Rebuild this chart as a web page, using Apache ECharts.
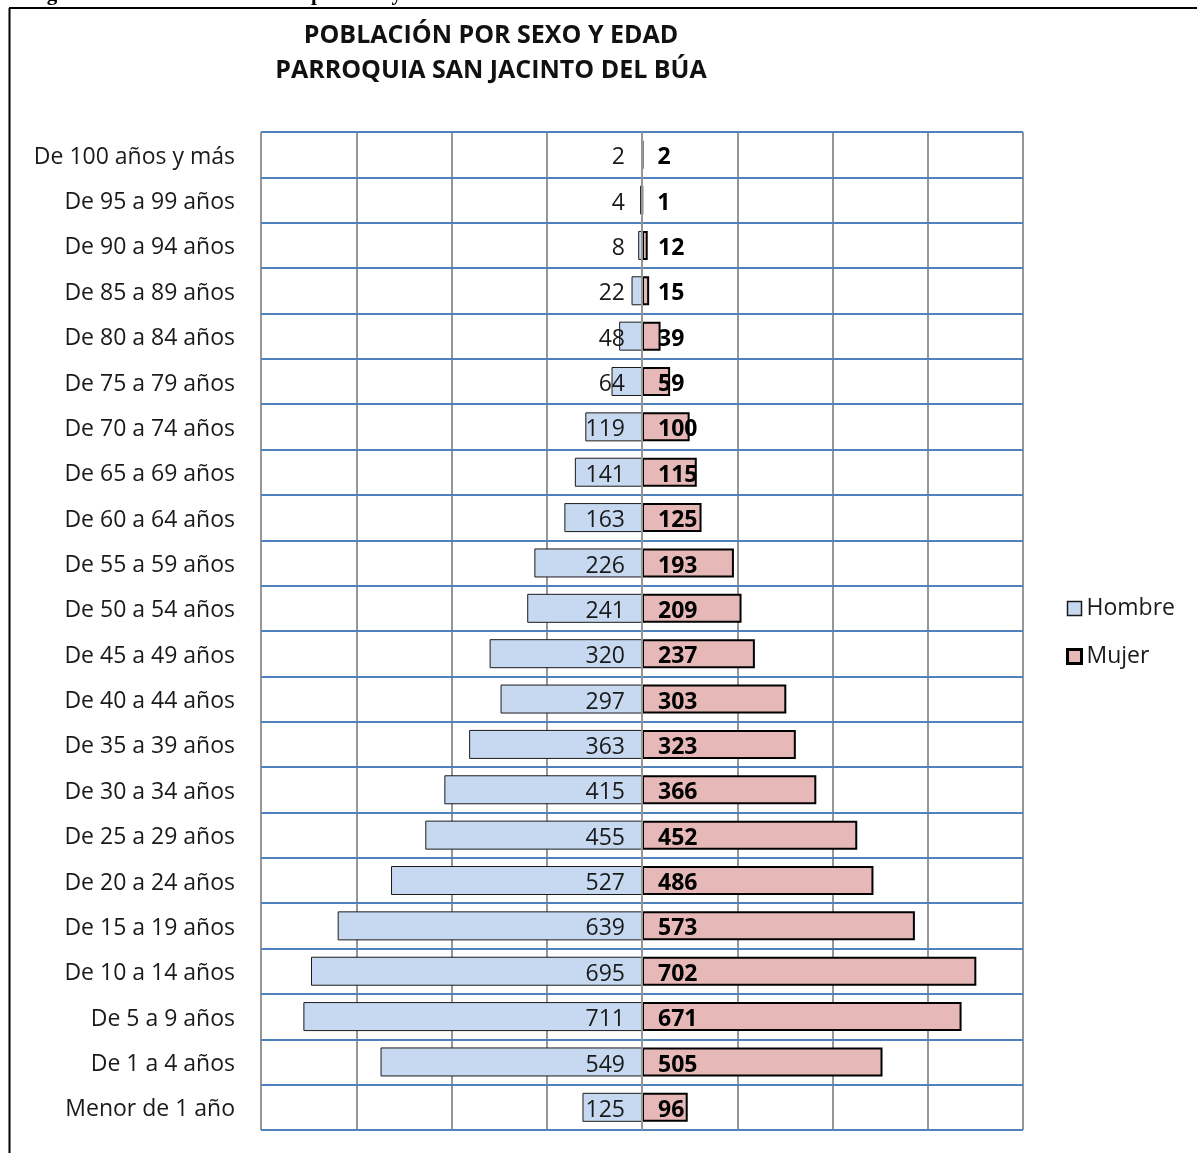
<!DOCTYPE html>
<html>
<head>
<meta charset="utf-8">
<script src="https://cdn.jsdelivr.net/npm/echarts@6/dist/echarts.min.js"></script>
<style>
  html, body { margin: 0; padding: 0; background: #ffffff; }
  #chart { width: 1197px; height: 1153px; }
</style>
</head>
<body>
<div id="chart"></div>
<script>
// Age groups, listed from the oldest (top row) to the youngest (bottom row)
const categories = [
  'De 100 años y más', 'De 95 a 99 años', 'De 90 a 94 años', 'De 85 a 89 años',
  'De 80 a 84 años', 'De 75 a 79 años', 'De 70 a 74 años', 'De 65 a 69 años',
  'De 60 a 64 años', 'De 55 a 59 años', 'De 50 a 54 años', 'De 45 a 49 años',
  'De 40 a 44 años', 'De 35 a 39 años', 'De 30 a 34 años', 'De 25 a 29 años',
  'De 20 a 24 años', 'De 15 a 19 años', 'De 10 a 14 años', 'De 5 a 9 años',
  'De 1 a 4 años', 'Menor de 1 año'
];
const hombre = [2, 4, 8, 22, 48, 64, 119, 141, 163, 226, 241, 320, 297, 363, 415, 455, 527, 639, 695, 711, 549, 125];
const mujer  = [2, 1, 12, 15, 39, 59, 100, 115, 125, 193, 209, 237, 303, 323, 366, 452, 486, 573, 702, 671, 505, 96];
const seriesNames = ['Hombre', 'Mujer'];
const titleLines = ['POBLACIÓN POR SEXO Y EDAD', 'PARROQUIA SAN JACINTO DEL BÚA'];

const FONT = '"Open Sans", "DejaVu Sans", sans-serif';
const chart = echarts.init(document.getElementById('chart'), null, { renderer: 'canvas' });

chart.setOption({
  backgroundColor: '#ffffff',
  animation: false,
  title: {
    text: titleLines.join('\n'),
    left: 486,
    top: 13,
    textAlign: 'center',
    textStyle: { fontFamily: FONT, fontSize: 25, fontWeight: 'bold', color: '#111111', lineHeight: 35 }
  },
  legend: {
    orient: 'vertical',
    left: 1061,
    top: 590,
    itemWidth: 14,
    itemHeight: 14,
    itemGap: 21,
    icon: 'rect',
    textStyle: { fontFamily: FONT, fontSize: 23, color: '#1a1a1a', lineHeight: 24, padding: [3, 0, 0, 0] },
    data: [
      { name: seriesNames[0], itemStyle: { borderColor: '#1a1a1a', borderWidth: 1.5 } },
      { name: seriesNames[1], itemStyle: { borderColor: '#000000', borderWidth: 3 } }
    ]
  },
  grid: { left: 261, right: 174, top: 132, bottom: 23, containLabel: false },
  xAxis: {
    type: 'value',
    min: -800,
    max: 800,
    interval: 200,
    axisLine: { show: false },
    axisTick: { show: false },
    axisLabel: { show: false },
    splitLine: { show: true, lineStyle: { color: '#969696', width: 2 } }
  },
  yAxis: {
    type: 'category',
    data: categories,
    inverse: true,
    axisLine: { show: false },
    axisTick: { show: false },
    // a short line box anchored at the row centre drops each label a few pixels
    axisLabel: {
      margin: 26, fontFamily: FONT, fontSize: 23, color: '#1a1a1a',
      verticalAlign: 'top', lineHeight: 5
    },
    splitLine: { show: true, interval: 0, lineStyle: { color: '#4f81bd', width: 2 } },
    z: 3
  },
  series: [
    {
      name: seriesNames[0],
      type: 'bar',
      data: hombre.map(v => -v),
      barWidth: 29,
      barGap: '-100%',
      itemStyle: { color: '#c6d9f1', borderColor: '#1a1a1a', borderWidth: 1 },
      label: {
        show: true,
        position: 'insideRight',
        distance: 17,
        offset: [0, 3],
        fontFamily: FONT,
        fontSize: 23,
        color: '#1a1a1a',
        formatter: p => String(Math.abs(p.value))
      },
      markLine: {
        silent: true,
        symbol: 'none',
        label: { show: false },
        lineStyle: { color: '#969696', width: 2, type: 'solid' },
        data: [{ xAxis: 0 }]
      },
      z: 4
    },
    {
      name: seriesNames[1],
      type: 'bar',
      data: mujer,
      barWidth: 29,
      barGap: '-100%',
      itemStyle: { color: '#e6b9b8', borderColor: '#000000', borderWidth: 2 },
      label: {
        show: true,
        position: 'insideLeft',
        distance: 16,
        offset: [0, 3],
        fontFamily: FONT,
        fontSize: 23,
        fontWeight: 'bold',
        color: '#000000'
      },
      z: 4
    }
  ],
  graphic: [
    { type: 'line', shape: { x1: 9.5, y1: 8, x2: 9.5, y2: 1153 }, style: { stroke: '#000', lineWidth: 2 }, z: 10 },
    { type: 'line', shape: { x1: 9, y1: 8, x2: 1197, y2: 8 }, style: { stroke: '#000', lineWidth: 2 }, z: 10 },
    { type: 'text', x: 28, y: 5.5, style: { text: 'Figura 3.', font: 'bold 21px "Liberation Serif", serif', fill: '#000', verticalAlign: 'bottom' }, z: 9 },
    { type: 'text', x: 217, y: 5.5, style: { text: 'Población por sexo y edad', font: 'bold 21px "Liberation Serif", serif', fill: '#000', verticalAlign: 'bottom' }, z: 9 }
  ]
});
</script>
</body>
</html>
